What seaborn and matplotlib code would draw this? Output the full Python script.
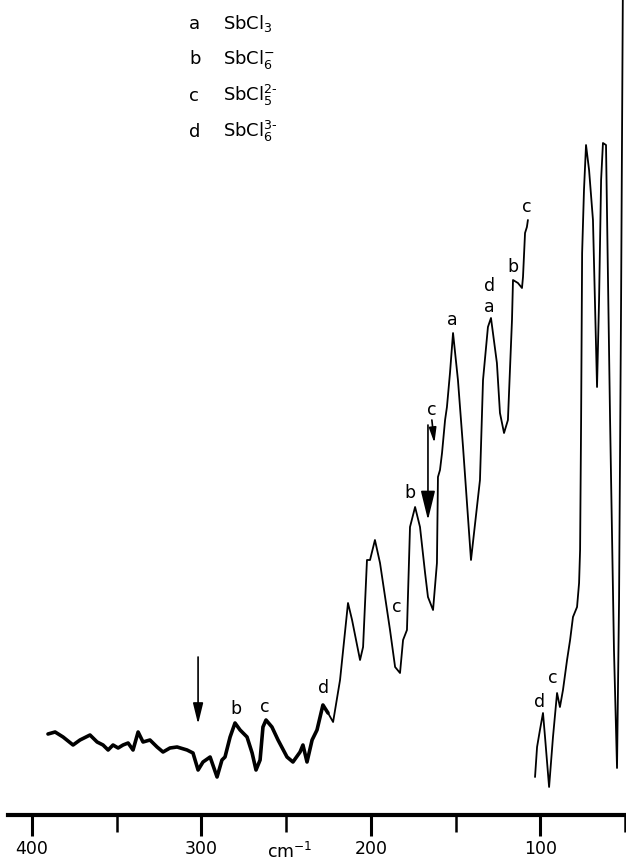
import numpy as np
import pandas as pd
import matplotlib
matplotlib.use("Agg")
import matplotlib.pyplot as plt
import seaborn as sns

sns.set_style("white")
plt.rcParams['font.family'] = ['DejaVu Sans']
plt.rcParams['mathtext.default'] = 'regular'
plt.rcParams['text.color'] = 'black'
plt.rcParams['xtick.color'] = 'black'
plt.rcParams['axes.edgecolor'] = 'black'

# ---- data (wavenumber cm^-1, intensity arbitrary units) ----
noise_wn = [390.6, 386.4, 381.7, 375.8, 371.7, 365.8, 361.6, 358.1, 355.1, 352.2,
            349.2, 346.3, 343.3, 340.4, 337.4, 334.5, 330.4, 326.2, 322.7, 318.6,
            314.4, 308.5, 305.0, 302.0, 299.1, 294.9, 290.8, 287.9, 286.1, 283.1,
            280.2, 277.2, 273.1, 270.1, 267.8, 265.4, 263.7, 261.9, 258.4, 254.8,
            249.5, 246.0, 241.8, 240.1, 237.7, 234.7, 231.8, 228.3, 225.3]
noise_int = [81, 83, 78, 70, 75, 80, 73, 70, 65, 70,
             67, 70, 72, 65, 83, 73, 75, 68, 63, 67,
             68, 65, 62, 45, 53, 58, 38, 55, 58, 78,
             92, 85, 78, 62, 45, 55, 88, 95, 88, 75,
             58, 53, 63, 70, 53, 75, 85, 110, 102]

main_wn = [225.3, 222.3, 218.2, 213.5, 211.1, 206.4, 204.6, 202.3, 200.5, 197.6,
           194.6, 188.7, 185.7, 182.8, 181.0, 178.7, 176.9, 173.9, 171.0, 168.0,
           166.3, 163.3, 161.0, 160.4, 159.2, 158.0, 156.2, 155.1, 153.3, 151.5,
           148.6, 145.6, 140.9, 135.6, 133.8, 130.9, 129.1, 125.6, 123.8, 121.4,
           119.1, 116.7, 116.1, 113.2, 110.8, 110.2, 109.0, 107.9, 107.3]
main_int = [102, 93, 135, 212, 195, 155, 168, 255, 255, 275,
            252, 185, 148, 142, 175, 185, 288, 308, 288, 242,
            218, 205, 252, 338, 345, 362, 395, 408, 442, 482,
            435, 368, 255, 335, 435, 488, 497, 452, 402, 382,
            395, 495, 535, 532, 527, 538, 582, 588, 595]

low_wn = [103.1, 101.9, 100.2, 98.4, 97.2, 94.8, 92.5, 90.1, 88.4, 86.6,
          84.2, 82.4, 80.7, 78.3, 77.1, 76.5, 75.9, 75.3, 74.2, 73.0,
          71.2, 68.9, 66.5, 65.3, 64.1, 63.0, 61.2, 58.8, 56.5, 54.7,
          53.5, 52.3, 51.2]
low_int = [38, 68, 85, 102, 78, 28, 78, 122, 108, 125,
           155, 175, 198, 208, 232, 265, 395, 562, 625, 670,
           645, 595, 428, 515, 635, 672, 670, 395, 165, 47,
           215, 515, 840]

peak_labels = ['b', 'c', 'd', 'c', 'b', 'c', 'a', 'd', 'a', 'b', 'c', 'd', 'c']
peak_label_wn = [279.6, 262.5, 228.2, 184.5, 176.9, 163.9, 152.1, 130.2, 130.2, 116.1, 107.8, 100.7, 92.5]
peak_label_int = [106, 108, 127, 208, 322, 405, 495, 529, 508, 548, 608, 113, 137]

legend_keys = ['a', 'b', 'c', 'd']
legend_species = ['SbCl$_3$', 'SbCl$_6^{-}$', 'SbCl$_5^{2\u2010}$', 'SbCl$_6^{3\u2010}$']

# arrows: (wavenumber start, int start, wavenumber end, int end)
arrow_x0 = [302.0, 166.3, 164.0]
arrow_y0 = [158, 390, 395]
arrow_x1 = [302.0, 166.3, 162.5]
arrow_y1 = [91, 295, 372]

tick_major = [400, 300, 200, 100]
tick_minor = [350, 250, 150, 50]

# ---- figure ----
W, H = 626, 861
fig = plt.figure(figsize=(W / 100, H / 100), dpi=100)
ax = fig.add_axes([8 / W, (H - 815) / H, 618 / W, 815 / H])

df_noise = pd.DataFrame({'wn': noise_wn, 'I': noise_int})
df_main = pd.DataFrame({'wn': main_wn, 'I': main_int})
df_low = pd.DataFrame({'wn': low_wn, 'I': low_int})

sns.lineplot(data=df_noise, x='wn', y='I', sort=False, color='black', lw=2.6, ax=ax)
sns.lineplot(data=df_main, x='wn', y='I', sort=False, color='black', lw=1.3, ax=ax)
sns.lineplot(data=df_low, x='wn', y='I', sort=False, color='black', lw=1.3, ax=ax)

ax.set_xlim(414.2, 49.4)
ax.set_ylim(0, 815)

for s in ['top', 'left', 'right']:
    ax.spines[s].set_visible(False)
ax.spines['bottom'].set_linewidth(3)
ax.spines['bottom'].set_color('black')
ax.set_yticks([])
ax.set_xticks(tick_major)
ax.set_xticks(tick_minor, minor=True)
ax.set_xticklabels([str(t) for t in tick_major], fontsize=12.5)
ax.tick_params(axis='x', which='both', bottom=True, top=False, colors='black')
ax.tick_params(axis='x', which='major', direction='out', length=15, width=2.2, pad=3)
ax.tick_params(axis='x', which='minor', direction='out', length=12, width=1.8)
ax.set_xlabel('')
ax.set_ylabel('')

fig.text(290 / W, 1 - 852 / H, 'cm$^{-1}$', fontsize=12.5, ha='center', va='center')

for lab, x, y in zip(peak_labels, peak_label_wn, peak_label_int):
    ax.text(x, y, lab, fontsize=12.5, ha='center', va='center', color='black')

for x0, y0, x1, y1, hs in zip(arrow_x0, arrow_y0, arrow_x1, arrow_y1, [14, 20, 10]):
    ax.annotate('', xy=(x1, y1), xytext=(x0, y0),
                arrowprops=dict(arrowstyle='-|>,head_length=0.9,head_width=0.22',
                                color='black', lw=1.2, mutation_scale=hs,
                                shrinkA=0, shrinkB=0))

baselines = [29, 64, 101, 137]
for k, sp, yb in zip(legend_keys, legend_species, baselines):
    fig.text(189 / W, 1 - yb / H, k, fontsize=13, ha='left', va='baseline')
    fig.text(223 / W, 1 - yb / H, sp, fontsize=13, ha='left', va='baseline')

fig.savefig('out.png', dpi=100)
